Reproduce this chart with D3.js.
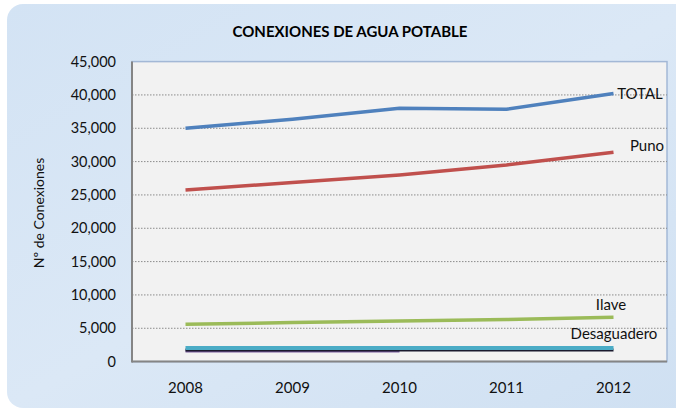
<!DOCTYPE html>
<html><head><meta charset="utf-8">
<script src="https://cdn.jsdelivr.net/npm/d3@7"></script>
<style>html,body{margin:0;padding:0;background:#fff;}svg{display:block;}</style>
</head><body>
<svg id="c" width="676" height="416"></svg>
<script>
const years = ["2008","2009","2010","2011","2012"];
const totalVals = [35000, 36350, 38000, 37850, 40200];
const punoVals = [25750, 26850, 28000, 29500, 31400];
const ilaveVals = [5600, 5850, 6100, 6300, 6650];
const desaguaderoVals = [2050, 2050, 2050, 2050, 2050];
const otherDarkVals = [1750, 1750, 1750, 1750, 1750];
const otherPurpleVals = [1600, 1600, 1600, null, null];
const yTicks = [0,5000,10000,15000,20000,25000,30000,35000,40000,45000];
const seriesNames = ["TOTAL","Puno","Ilave","Desaguadero","",""];
const title = "CONEXIONES DE AGUA POTABLE";
const yTitle = "Nº de Conexiones";

(function(){
const svg = d3.select("#c");
const font = "Lato, 'Open Sans', sans-serif";

const defs = svg.append("defs");
const g1 = defs.append("linearGradient").attr("id","bg").attr("x1","0").attr("y1","0").attr("x2","1").attr("y2","1");
g1.append("stop").attr("offset","0").attr("stop-color","#d3e3f4");
g1.append("stop").attr("offset","0.5").attr("stop-color","#dbe8f6");
g1.append("stop").attr("offset","1").attr("stop-color","#cfe0f2");
svg.append("rect").attr("x",7).attr("y",4).attr("width",690).attr("height",404).attr("rx",16).attr("fill","url(#bg)");

const pL = 132, pR = 667, pT = 61.6, pB = 361.6;
const x = d3.scaleBand().domain(years).range([pL, pR]).padding(0);
const xc = d => x(d) + x.bandwidth()/2;
const y = d3.scaleLinear().domain([0,45000]).range([pB, pT]);

svg.append("rect").attr("x",pL).attr("y",pT).attr("width",pR-pL).attr("height",pB-pT)
  .attr("fill","#f2f2f2").attr("stroke","#a3b8d6").attr("stroke-width",1.5);

svg.append("g").selectAll("line").data(yTicks.filter(t=>t>0 && t<45000)).join("line")
  .attr("x1",pL).attr("x2",pR).attr("y1",d=>y(d)).attr("y2",d=>y(d))
  .attr("stroke","#8c8c8c").attr("stroke-width",1).attr("stroke-dasharray","1.5,1.5");

svg.append("line").attr("x1",pL).attr("x2",pL).attr("y1",pT).attr("y2",pB+1).attr("stroke","#858585").attr("stroke-width",2);
svg.append("line").attr("x1",pL).attr("x2",pR).attr("y1",pB).attr("y2",pB).attr("stroke","#858585").attr("stroke-width",2);

const yAxis = d3.axisLeft(y).tickValues(yTicks).tickFormat(d3.format(",")).tickSize(0).tickPadding(16);
const ya = svg.append("g").attr("transform",`translate(${pL},0)`).call(yAxis);
ya.select(".domain").remove();
ya.selectAll("text").attr("font-family",font).attr("font-size",14.5).attr("fill","#111");

const xAxis = d3.axisBottom(x).tickSize(0).tickPadding(21);
const xa = svg.append("g").attr("transform",`translate(0,${pB})`).call(xAxis);
xa.select(".domain").remove();
xa.selectAll("text").attr("font-family",font).attr("font-size",15).attr("fill","#111");

const line = d3.line().defined(d=>d[1]!=null).x(d=>xc(d[0])).y(d=>y(d[1]));
const series = [
  {vals: otherPurpleVals, color:"#7d5fa0", w:3},
  {vals: otherDarkVals, color:"#1a1a2e", w:3},
  {vals: desaguaderoVals, color:"#4bacc6", w:4},
  {vals: ilaveVals, color:"#9bbb59", w:3.5},
  {vals: punoVals, color:"#c0504d", w:3.5},
  {vals: totalVals, color:"#4f81bd", w:3.5}
];
series.forEach(s=>{
  svg.append("path").datum(years.map((yr,i)=>[yr,s.vals[i]])).attr("d",line)
    .attr("fill","none").attr("stroke",s.color).attr("stroke-width",s.w).attr("stroke-linejoin","round");
});

const labels = [
  {t:seriesNames[0], x:640, y:y(totalVals[4])+5},
  {t:seriesNames[1], x:647, y:151},
  {t:seriesNames[2], x:611, y:310},
  {t:seriesNames[3], x:614, y:339}
];
svg.append("g").selectAll("text").data(labels).join("text")
  .attr("x",d=>d.x).attr("y",d=>d.y).attr("text-anchor","middle")
  .attr("font-family",font).attr("font-size",15).attr("fill","#111").text(d=>d.t);

svg.append("text").attr("x",350).attr("y",37).attr("text-anchor","middle")
  .attr("font-family",font).attr("font-weight","bold").attr("font-size",15).attr("fill","#000").text(title);
svg.append("text").attr("transform",`translate(44,213) rotate(-90)`).attr("text-anchor","middle")
  .attr("font-family",font).attr("font-size",14).attr("fill","#111").text(yTitle);
})();
</script>
</body></html>
